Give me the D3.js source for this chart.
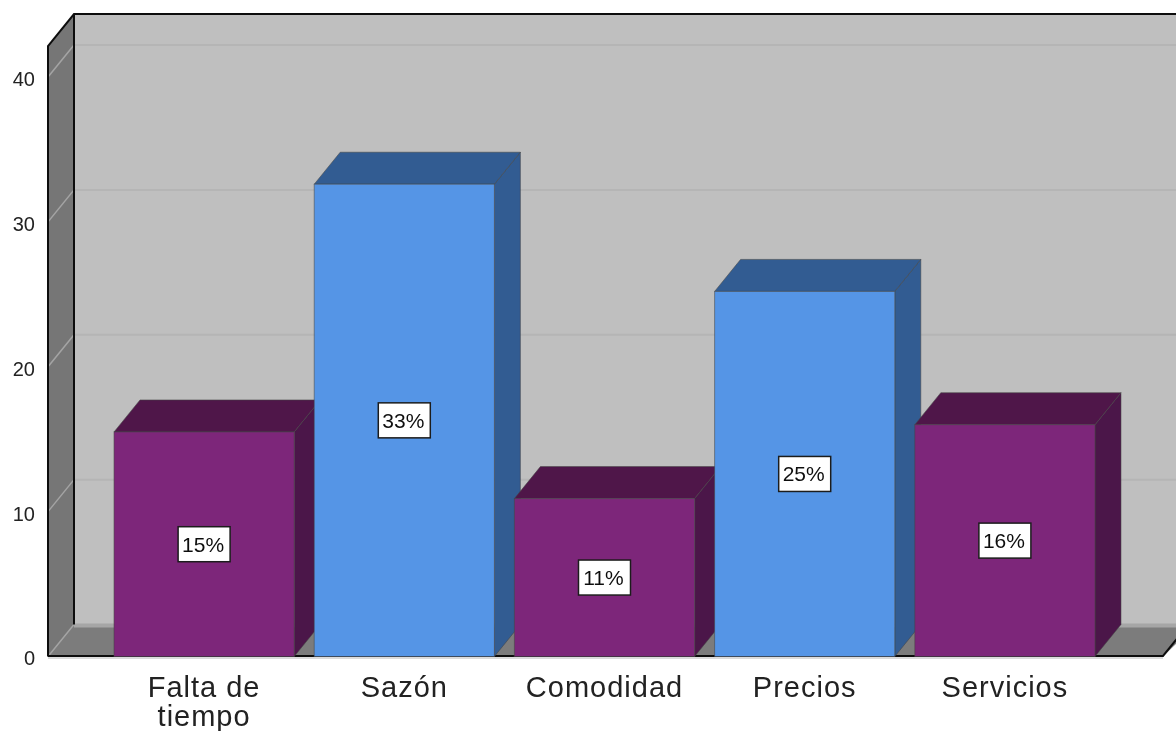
<!DOCTYPE html>
<html><head><meta charset="utf-8">
<style>html,body{margin:0;padding:0;background:#fff;overflow:hidden}svg{display:block}
text{font-family:"Liberation Sans",Arial,sans-serif}</style>
<script src="https://cdnjs.cloudflare.com/ajax/libs/d3/7.8.5/d3.min.js"></script>
</head><body><svg id="c" width="1176" height="731"></svg>
<script>
const categories=["Falta de tiempo","Sazón","Comodidad","Precios","Servicios"];
const values=[15.5,32.6,10.9,25.2,16.0];
const percentLabels=["15%","33%","11%","25%","16%"];
const frontColors=["#7d287a","#5495e6","#7d287a","#5495e6","#7d287a"];
const topColors=["#4f1849","#315c92","#4f1849","#315c92","#4f1849"];
const sideColors=["#4b1748","#315c92","#4b1748","#315c92","#4b1748"];
const yTicks=[0,10,20,30,40];

const svg=d3.select("#c");
const W=1176;
const depthX=26, depthY=32;
const y=d3.scaleLinear().domain([0,40]).range([656.5,77]);
const x=d3.scaleBand().domain(categories).range([104,1105]).paddingInner(0.1).paddingOuter(0.05);
const left=48, right=1163, yMax=46, y0=y(0);
const poly=(pts,fill,g)=>g.append("polygon").attr("points",pts.map(p=>p.join(",")).join(" ")).attr("fill",fill);

const soft=svg.append("g").attr("filter","url(#soft)");
svg.append("defs").append("filter").attr("id","soft").attr("x","-2%").attr("y","-2%").attr("width","104%").attr("height","104%")
  .append("feGaussianBlur").attr("stdDeviation",0.6);

// walls and floor
const walls=soft.append("g");
poly([[left+depthX,yMax-depthY],[W+12,yMax-depthY],[W+12,y0-depthY],[left+depthX,y0-depthY]],"#bfbfbf",walls);
poly([[left,yMax],[left+depthX,yMax-depthY],[left+depthX,y0-depthY],[left,y0]],"#767676",walls);
poly([[left,y0],[left+depthX,y0-depthY],[W+20,y0-depthY],[right,y0]],"#7c7c7c",walls);
walls.append("rect").attr("x",left+depthX).attr("y",y0-depthY-1).attr("width",W).attr("height",4).attr("fill","#a6a6a6");

// grid
const grid=soft.append("g");
grid.selectAll("line.back").data(yTicks.slice(1)).join("line").attr("class","back")
  .attr("x1",left+depthX).attr("x2",W+12).attr("y1",d=>y(d)-depthY).attr("y2",d=>y(d)-depthY)
  .attr("stroke","#b5b5b5").attr("stroke-width",2);
grid.selectAll("line.side").data(yTicks).join("line").attr("class","side")
  .attr("x1",left).attr("x2",left+depthX).attr("y1",d=>y(d)).attr("y2",d=>y(d)-depthY)
  .attr("stroke","#a4a4a4").attr("stroke-width",1.5);

// frame
const frame=[[[left,y0],[left,yMax],[left+depthX,yMax-depthY],[W+12,yMax-depthY]],
  [[left+depthX,yMax-depthY],[left+depthX,y0-depthY]],
  [[left,y0-0.5],[right,y0-0.5],[right+depthX,y0-depthY-0.5]]];
soft.append("g").selectAll("path").data(frame).join("path")
  .attr("d",d3.line()).attr("fill","none").attr("stroke","#111").attr("stroke-width",2);
soft.append("line").attr("x1",left).attr("x2",right).attr("y1",y0+1.5).attr("y2",y0+1.5).attr("stroke","#b8b8b8").attr("stroke-width",1);

// bars
const edge="rgba(70,70,70,0.55)";
const bars=soft.append("g").selectAll("g").data(categories).join("g");
bars.each(function(c,i){
  const g=d3.select(this), x0=x(c), x1=x0+x.bandwidth(), yt=y(values[i]);
  poly([[x1,yt],[x1+depthX,yt-depthY],[x1+depthX,y0-depthY],[x1,y0]],sideColors[i],g).attr("stroke",edge);
  poly([[x0,yt],[x0+depthX,yt-depthY],[x1+depthX,yt-depthY],[x1,yt]],topColors[i],g).attr("stroke",edge);
  g.append("rect").attr("x",x0).attr("y",yt).attr("width",x.bandwidth()).attr("height",y0-yt)
    .attr("fill",frontColors[i]).attr("stroke",edge);
  const cx=(x0+x1)/2, cy=(y0+yt)/2;
  g.append("rect").attr("x",cx-26).attr("y",cy-17.5).attr("width",52).attr("height",35)
    .attr("fill","#fff").attr("stroke","#1c1c1c").attr("stroke-width",1.5);
  g.append("text").attr("x",cx-1).attr("y",cy+7.5).attr("text-anchor","middle")
    .attr("font-size",21).attr("fill","#111").text(percentLabels[i]);
});

// axes
const yAxis=soft.append("g").attr("transform","translate(35,2)")
  .call(d3.axisLeft(y).tickValues(yTicks).tickSize(0).tickPadding(0).tickFormat(d3.format("d")));
yAxis.select(".domain").remove();
yAxis.selectAll("text").attr("font-size",20).attr("fill","#222");
yAxis.attr("font-family",null);

const xAxis=soft.append("g").attr("transform",`translate(0,${y0})`)
  .call(d3.axisBottom(x).tickSize(0).tickPadding(0));
xAxis.select(".domain").remove();
xAxis.attr("font-family",null);
xAxis.selectAll("text").each(function(c){
  const t=d3.select(this).text(null).attr("font-size",29).attr("fill","#222").attr("letter-spacing",1).attr("y",0).attr("dy",null);
  const lines=c.split(" ").length>1?[c.slice(0,c.lastIndexOf(" ")),c.slice(c.lastIndexOf(" ")+1)]:[c];
  lines.forEach((l,k)=>t.append("tspan").attr("x",0).attr("y",40+k*29).text(l));
});
</script></body></html>
